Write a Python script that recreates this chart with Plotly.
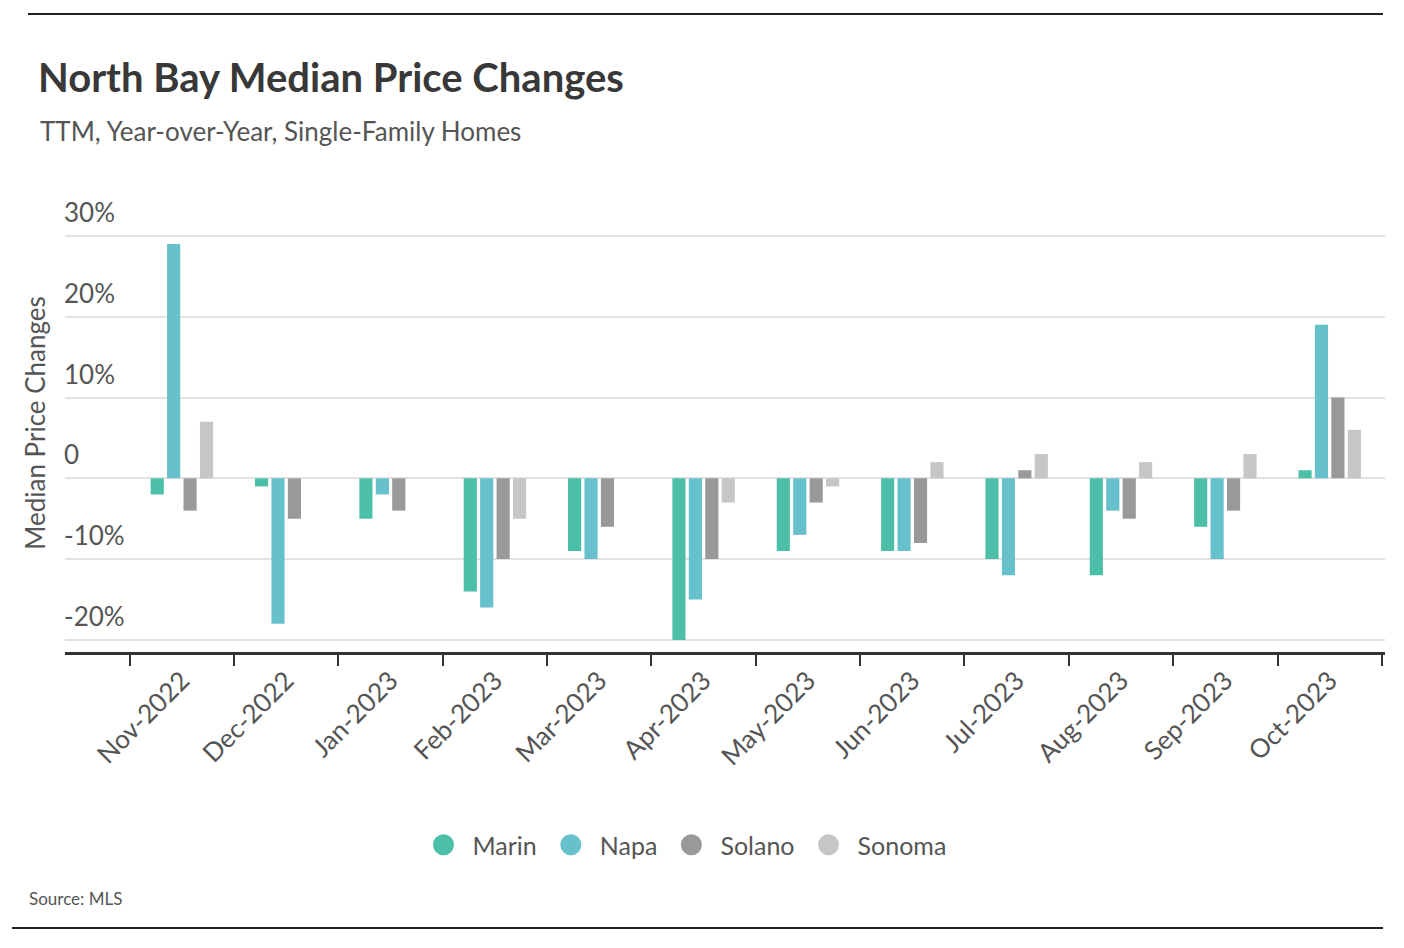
import plotly.graph_objects as go

months = ["Nov-2022", "Dec-2022", "Jan-2023", "Feb-2023", "Mar-2023", "Apr-2023",
          "May-2023", "Jun-2023", "Jul-2023", "Aug-2023", "Sep-2023", "Oct-2023"]
marin = [-2, -1, -5, -14, -9, -20, -9, -9, -10, -12, -6, 1]
napa = [29, -18, -2, -16, -10, -15, -7, -9, -12, -4, -10, 19]
solano = [-4, -5, -4, -10, -6, -10, -3, -8, 1, -5, -4, 10]
sonoma = [7, 0, 0, -5, 0, -3, -1, 2, 3, 2, 3, 6]

series_names = ["Marin", "Napa", "Solano", "Sonoma"]
series_values = [marin, napa, solano, sonoma]
colors = ["#4cbfa8", "#67c1cd", "#999999", "#c6c6c6"]

ytick_vals = [-20, -10, 0, 10, 20, 30]
ytick_text = ["-20%", "-10%", "0", "10%", "20%", "30%"]

FONT = "Lato, Roboto, sans-serif"

# page body has an 8px margin; figure is sized to fit inside the window
OFF = 8
W, H = 1388, 932
L, R, T, B = 57, 11, 186, 288
PW, PH = W - L - R, H - T - B


def px_x(sx):
    return (sx - OFF - L) / PW


def px_y(sy):
    return (H - B - (sy - OFF)) / PH


fig = go.Figure()
for name, vals, col in zip(series_names, series_values, colors):
    fig.add_trace(go.Bar(x=months, y=vals, name=name, marker_color=col,
                         marker_line_width=0, showlegend=False))
for name, col in zip(series_names, colors):
    fig.add_trace(go.Scatter(x=[None], y=[None], mode="markers", name=name,
                             marker=dict(color=col, size=16, symbol="circle",
                                         line=dict(color=col, width=5))))

fig.update_layout(
    width=W, height=H,
    margin=dict(l=L, r=R, t=T, b=B, autoexpand=False),
    paper_bgcolor="white", plot_bgcolor="white",
    font=dict(family=FONT, color="#555555", size=26),
    barmode="group", bargap=0.37, bargroupgap=0.2,
    title=dict(text="<b>North Bay Median Price Changes</b>", x=(38 - OFF) / W, xanchor="left",
               xref="container", yref="container", y=1 - (78 - OFF) / H, yanchor="middle",
               font=dict(family=FONT, size=40, color="#383838")),
    legend=dict(orientation="h", x=px_x(683), xanchor="center", y=px_y(845),
                yanchor="middle", font=dict(size=25, color="#555555"),
                itemsizing="trace", itemwidth=48, tracegroupgap=0, bgcolor="rgba(0,0,0,0)"),
    showlegend=True,
)

fig.update_xaxes(
    type="category", range=[-1.12, 11.53],
    showline=True, linecolor="#333333", linewidth=3,
    ticks="outside", ticklen=11, tickwidth=2, tickcolor="#333333",
    tickson="boundaries", tickangle=-45, showgrid=False,
    tickfont=dict(size=26, color="#555555"), automargin=False,
)
fig.update_yaxes(
    range=[-21.5, 35.2], tickvals=ytick_vals, ticktext=ytick_text,
    showgrid=True, gridcolor="#e2e2e2", gridwidth=1.5,
    zeroline=True, zerolinecolor="#e2e2e2", zerolinewidth=1.5,
    ticks="", ticklabelposition="inside", ticklabelshift=-23, ticklabelstandoff=-4,
    tickfont=dict(size=26, color="#555555"),
    title=dict(text="Median Price Changes", standoff=10,
               font=dict(size=26, color="#555555")),
    automargin=False, showline=False,
)

fig.add_annotation(text="TTM, Year-over-Year, Single-Family Homes", xref="paper", yref="paper",
                   x=px_x(38), y=px_y(131), xanchor="left", yanchor="middle", showarrow=False,
                   font=dict(size=26, color="#555555"))
fig.add_annotation(text="Source: MLS", xref="paper", yref="paper",
                   x=px_x(27), y=px_y(898), xanchor="left", yanchor="middle", showarrow=False,
                   font=dict(size=17, color="#555555"))

fig.add_shape(type="line", xref="paper", yref="paper", x0=px_x(28), x1=px_x(1383),
              y0=px_y(14), y1=px_y(14), line=dict(color="#222222", width=2))
fig.add_shape(type="line", xref="paper", yref="paper", x0=px_x(12), x1=px_x(1383),
              y0=px_y(928), y1=px_y(928), line=dict(color="#222222", width=2))

fig.write_html("out.html")
